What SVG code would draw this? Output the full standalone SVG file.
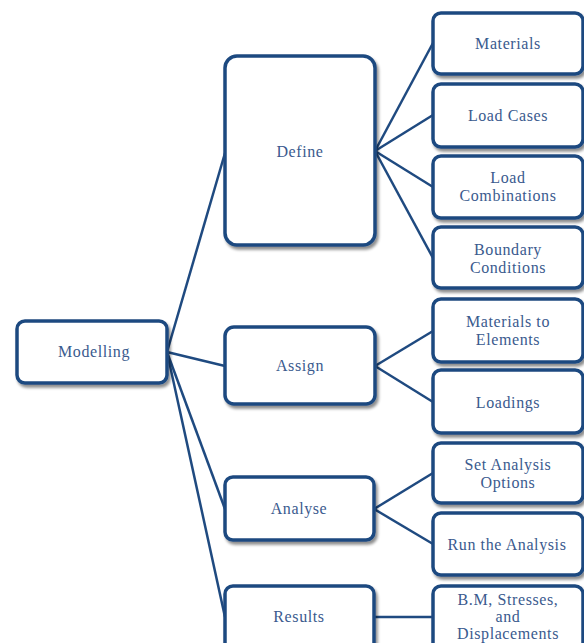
<svg xmlns="http://www.w3.org/2000/svg" width="584" height="643" viewBox="0 0 584 643">
<defs>
<filter id="sh" x="-10%" y="-10%" width="125%" height="125%">
<feGaussianBlur in="SourceAlpha" stdDeviation="1.5"/>
<feOffset dx="2" dy="3" result="b"/>
<feComponentTransfer><feFuncA type="linear" slope="0.45"/></feComponentTransfer>
<feMerge><feMergeNode/><feMergeNode in="SourceGraphic"/></feMerge>
</filter>
</defs>
<style>
.box{fill:#fff;stroke:#1f4a80;stroke-width:3.5;filter:url(#sh)}
.t{font-family:"Liberation Serif","Times New Roman",serif;font-size:16px;fill:#3a5a8e;text-anchor:middle;letter-spacing:0.6px}
.c{stroke:#1f4a80;stroke-width:2.5;fill:none}
</style>
<rect width="584" height="643" fill="#fff"/>
<g id="connectors">
<line class="c" x1="167" y1="352" x2="225" y2="153"/>
<line class="c" x1="167" y1="352" x2="225" y2="366"/>
<line class="c" x1="167" y1="352" x2="225" y2="509"/>
<line class="c" x1="167" y1="352" x2="225" y2="617"/>
<line class="c" x1="375" y1="151" x2="433" y2="43"/>
<line class="c" x1="375" y1="151" x2="433" y2="115"/>
<line class="c" x1="375" y1="151" x2="433" y2="187"/>
<line class="c" x1="375" y1="151" x2="433" y2="258"/>
<line class="c" x1="375" y1="366" x2="433" y2="331"/>
<line class="c" x1="375" y1="366" x2="433" y2="402"/>
<line class="c" x1="374" y1="509" x2="433" y2="473"/>
<line class="c" x1="374" y1="509" x2="433" y2="544"/>
<line class="c" x1="374" y1="617" x2="433" y2="617"/>
</g>
<g id="modelling"><rect class="box" x="17" y="321" width="150" height="62" rx="8"/><text class="t" x="94" y="357">Modelling</text></g>
<g id="define"><rect class="box" x="225" y="56" width="150" height="189" rx="12"/><text class="t" x="300" y="157">Define</text></g>
<g id="assign"><rect class="box" x="225" y="327" width="150" height="77" rx="9"/><text class="t" x="300" y="371">Assign</text></g>
<g id="analyse"><rect class="box" x="225" y="477" width="149" height="63" rx="8"/><text class="t" x="299" y="514">Analyse</text></g>
<g id="results"><rect class="box" x="225" y="586" width="149" height="70" rx="8"/><text class="t" x="299" y="622">Results</text></g>
<g id="materials"><rect class="box" x="433" y="13" width="150" height="61" rx="8"/><text class="t" x="508" y="49">Materials</text></g>
<g id="loadcases"><rect class="box" x="433" y="84" width="150" height="63" rx="8"/><text class="t" x="508" y="121">Load Cases</text></g>
<g id="loadcombinations"><rect class="box" x="433" y="156" width="150" height="62" rx="8"/><text class="t" x="508" y="183">Load</text><text class="t" x="508" y="201">Combinations</text></g>
<g id="boundary"><rect class="box" x="433" y="227" width="150" height="61" rx="8"/><text class="t" x="508" y="255">Boundary</text><text class="t" x="508" y="273">Conditions</text></g>
<g id="materialstoelements"><rect class="box" x="433" y="299" width="150" height="63" rx="8"/><text class="t" x="508" y="327">Materials to</text><text class="t" x="508" y="345">Elements</text></g>
<g id="loadings"><rect class="box" x="433" y="370" width="150" height="63" rx="8"/><text class="t" x="508" y="408">Loadings</text></g>
<g id="setanalysis"><rect class="box" x="433" y="443" width="150" height="60" rx="8"/><text class="t" x="508" y="470">Set Analysis</text><text class="t" x="508" y="488">Options</text></g>
<g id="runanalysis"><rect class="box" x="433" y="513" width="150" height="62" rx="8"/><text class="t" x="507" y="550">Run the Analysis</text></g>
<g id="bm"><rect class="box" x="433" y="586" width="150" height="70" rx="8"/><text class="t" x="508" y="605">B.M, Stresses,</text><text class="t" x="508" y="622">and</text><text class="t" x="508" y="639">Displacements</text></g>
</svg>
